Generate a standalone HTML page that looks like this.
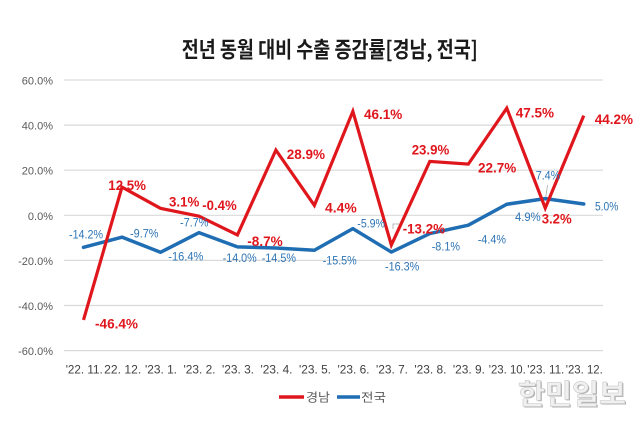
<!DOCTYPE html>
<html><head><meta charset="utf-8">
<style>
html,body{margin:0;padding:0;background:#fff;}
svg{display:block;font-family:"Liberation Sans","Noto Sans CJK KR",sans-serif;}
</style></head>
<body>
<svg width="643" height="421" viewBox="0 0 643 421" xmlns="http://www.w3.org/2000/svg">
<rect width="643" height="421" fill="#fff"/>
<!-- title -->
<text x="181.7" y="57.5" font-size="22" font-weight="bold" fill="#1a1a1a" textLength="296" lengthAdjust="spacingAndGlyphs" font-family="'Noto Sans CJK KR',sans-serif">전년 동월 대비 수출 증감률[경남, 전국]</text>
<!-- gridlines -->
<g stroke="#d9d9d9" stroke-width="1.2">
<line x1="64" y1="80" x2="603" y2="80"/>
<line x1="64" y1="125.1" x2="603" y2="125.1"/>
<line x1="64" y1="170.2" x2="603" y2="170.2"/>
<line x1="64" y1="215.3" x2="603" y2="215.3"/>
<line x1="64" y1="260.4" x2="603" y2="260.4"/>
<line x1="64" y1="305.5" x2="603" y2="305.5"/>
<line x1="64" y1="350.6" x2="603" y2="350.6"/>
</g>
<!-- y labels -->
<g font-size="11" fill="#595959" text-anchor="end">
<text x="53" y="84.5">60.0%</text>
<text x="53" y="129.6">40.0%</text>
<text x="53" y="174.7">20.0%</text>
<text x="53" y="219.8">0.0%</text>
<text x="53" y="264.9">-20.0%</text>
<text x="53" y="310">-40.0%</text>
<text x="53" y="355.1">-60.0%</text>
</g>
<!-- x labels -->
<g font-size="12" fill="#404040">
<text x="65.7" y="373.5" textLength="37" lengthAdjust="spacingAndGlyphs">'22. 11.</text>
<text x="104.2" y="373.5" textLength="37" lengthAdjust="spacingAndGlyphs">22. 12.</text>
<text x="145" y="373.5" textLength="32" lengthAdjust="spacingAndGlyphs">'23. 1.</text>
<text x="183.5" y="373.5" textLength="32" lengthAdjust="spacingAndGlyphs">'23. 2.</text>
<text x="222" y="373.5" textLength="32" lengthAdjust="spacingAndGlyphs">'23. 3.</text>
<text x="260.5" y="373.5" textLength="32" lengthAdjust="spacingAndGlyphs">'23. 4.</text>
<text x="299" y="373.5" textLength="32" lengthAdjust="spacingAndGlyphs">'23. 5.</text>
<text x="337.5" y="373.5" textLength="32" lengthAdjust="spacingAndGlyphs">'23. 6.</text>
<text x="376" y="373.5" textLength="32" lengthAdjust="spacingAndGlyphs">'23. 7.</text>
<text x="414.4" y="373.5" textLength="32" lengthAdjust="spacingAndGlyphs">'23. 8.</text>
<text x="452.9" y="373.5" textLength="32" lengthAdjust="spacingAndGlyphs">'23. 9.</text>
<text x="488.8" y="373.5" textLength="37" lengthAdjust="spacingAndGlyphs">'23. 10.</text>
<text x="527.3" y="373.5" textLength="37" lengthAdjust="spacingAndGlyphs">'23. 11.</text>
<text x="565.8" y="373.5" textLength="37" lengthAdjust="spacingAndGlyphs">'23. 12.</text>
</g>
<!-- leader lines -->
<g stroke="#a6a6a6" stroke-width="0.8" fill="none">
<line x1="547.5" y1="185" x2="545.5" y2="199"/>
<polyline points="393,229 393,224 399,224"/>
</g>
<!-- blue series -->
<polyline fill="none" stroke="#1f6db3" stroke-width="3.5" stroke-linejoin="round" stroke-linecap="round"
points="83.5,247.33 121.98,237.18 160.46,252.29 198.94,232.67 237.42,246.88 275.9,248 314.38,250.26 352.86,228.61 391.34,252.06 429.82,233.57 468.3,225.22 506.78,204.25 545.26,198.61 583.74,204.02"/>
<!-- red series -->
<polyline fill="none" stroke="#e0161d" stroke-width="3.2" stroke-linejoin="miter" stroke-linecap="butt"
points="83.5,319.96 121.98,187.11 160.46,208.31 198.94,216.2 237.42,234.92 275.9,150.12 314.38,205.38 352.86,111.32 391.34,245.07 429.82,161.39 468.3,164.1 506.78,108.16 545.26,208.08 583.74,115.61"/>
<!-- blue labels -->
<g font-size="12" fill="#2e75b6" lengthAdjust="spacingAndGlyphs">
<text x="69" y="238.6" textLength="34" lengthAdjust="spacingAndGlyphs">-14.2%</text>
<text x="130" y="237.6" textLength="28.5" lengthAdjust="spacingAndGlyphs">-9.7%</text>
<text x="180" y="226.6" textLength="28.5" lengthAdjust="spacingAndGlyphs">-7.7%</text>
<text x="168.3" y="260.3" textLength="35" lengthAdjust="spacingAndGlyphs">-16.4%</text>
<text x="222.7" y="262" textLength="34" lengthAdjust="spacingAndGlyphs">-14.0%</text>
<text x="261.7" y="262" textLength="34.3" lengthAdjust="spacingAndGlyphs">-14.5%</text>
<text x="322.7" y="264.3" textLength="34" lengthAdjust="spacingAndGlyphs">-15.5%</text>
<text x="357.3" y="227.6" textLength="27.7" lengthAdjust="spacingAndGlyphs">-5.9%</text>
<text x="385" y="270.3" textLength="34.3" lengthAdjust="spacingAndGlyphs">-16.3%</text>
<text x="431.7" y="250.3" textLength="28.3" lengthAdjust="spacingAndGlyphs">-8.1%</text>
<text x="477.7" y="243.6" textLength="28.3" lengthAdjust="spacingAndGlyphs">-4.4%</text>
<text x="515" y="221" textLength="25.7" lengthAdjust="spacingAndGlyphs">4.9%</text>
<text x="535.7" y="179.3" textLength="24.6" lengthAdjust="spacingAndGlyphs">7.4%</text>
<text x="595" y="210.3" textLength="23.3" lengthAdjust="spacingAndGlyphs">5.0%</text>
</g>
<!-- red labels -->
<g font-size="14" font-weight="bold" fill="#e0161d">
<text x="95" y="328.3" textLength="43" lengthAdjust="spacingAndGlyphs">-46.4%</text>
<text x="108.3" y="190" textLength="37.7" lengthAdjust="spacingAndGlyphs">12.5%</text>
<text x="169" y="206.7" textLength="30.3" lengthAdjust="spacingAndGlyphs">3.1%</text>
<text x="202.3" y="210" textLength="34.4" lengthAdjust="spacingAndGlyphs">-0.4%</text>
<text x="247.3" y="246" textLength="35.4" lengthAdjust="spacingAndGlyphs">-8.7%</text>
<text x="286.7" y="159" textLength="38.3" lengthAdjust="spacingAndGlyphs">28.9%</text>
<text x="325" y="212.3" textLength="31.7" lengthAdjust="spacingAndGlyphs">4.4%</text>
<text x="364" y="119" textLength="38.3" lengthAdjust="spacingAndGlyphs">46.1%</text>
<text x="402.7" y="233.3" textLength="42.3" lengthAdjust="spacingAndGlyphs">-13.2%</text>
<text x="411.7" y="154.3" textLength="37.6" lengthAdjust="spacingAndGlyphs">23.9%</text>
<text x="478" y="172.3" textLength="38.3" lengthAdjust="spacingAndGlyphs">22.7%</text>
<text x="515.7" y="117.3" textLength="38.3" lengthAdjust="spacingAndGlyphs">47.5%</text>
<text x="541.7" y="223.3" textLength="30" lengthAdjust="spacingAndGlyphs">3.2%</text>
<text x="594.7" y="124" textLength="38.3" lengthAdjust="spacingAndGlyphs">44.2%</text>
</g>
<!-- legend -->
<line x1="279" y1="397" x2="304" y2="397" stroke="#e0161d" stroke-width="3.5"/>
<text x="306" y="401.5" font-size="12" fill="#595959" textLength="24" lengthAdjust="spacingAndGlyphs">경남</text>
<line x1="337" y1="397" x2="360" y2="397" stroke="#1f6db3" stroke-width="3.5"/>
<text x="361" y="401.5" font-size="12" fill="#595959" textLength="25" lengthAdjust="spacingAndGlyphs">전국</text>
<!-- watermark -->
<text x="518" y="404" font-size="28" font-weight="bold" fill="#b0b0b0" textLength="108" lengthAdjust="spacingAndGlyphs" font-family="'Noto Sans CJK KR',sans-serif" transform="translate(1.2,1.2)">한민일보</text>
<text x="518" y="404" font-size="28" font-weight="bold" fill="#f0f0f0" stroke="#c8c8c8" stroke-width="0.6" textLength="108" lengthAdjust="spacingAndGlyphs" font-family="'Noto Sans CJK KR',sans-serif">한민일보</text>
</svg>
</body></html>
